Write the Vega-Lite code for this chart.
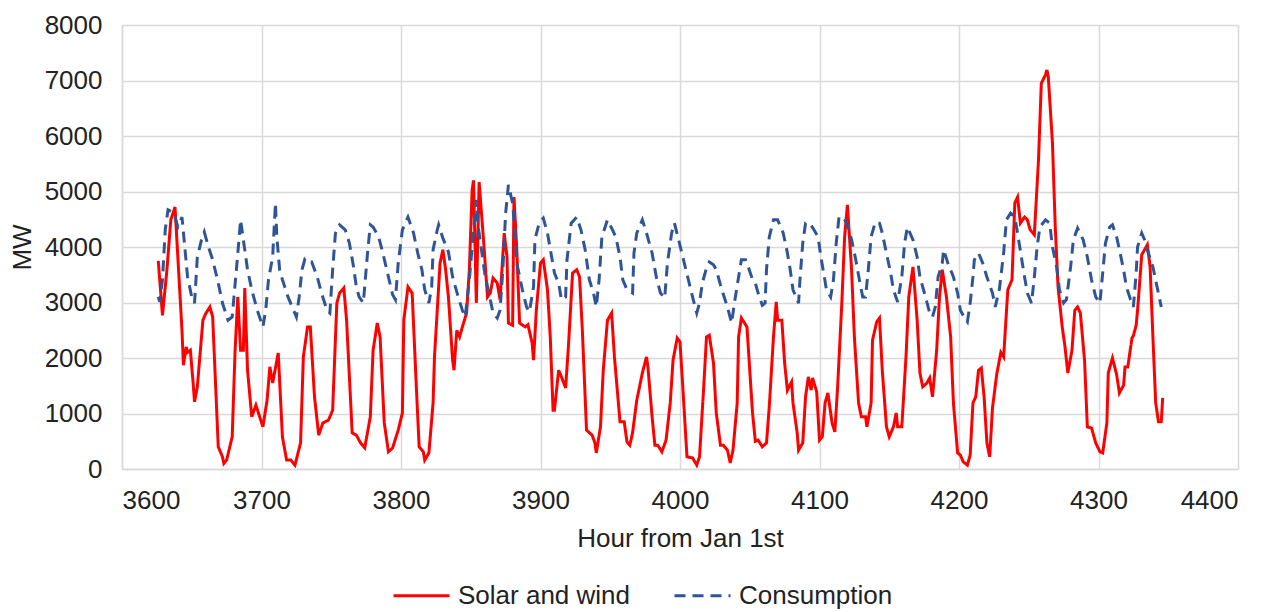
{
  "$schema": "https://vega.github.io/schema/vega-lite/v6.json",
  "width": 1116,
  "height": 444,
  "autosize": "none",
  "padding": {"left": 122, "top": 25, "right": 42, "bottom": 143},
  "datasets": {
    "sw": [
      {"h":3626,"mw":3750},{"h":3629,"mw":2770},{"h":3632,"mw":3530},{"h":3635,"mw":4490},{"h":3638,"mw":4720},{"h":3643,"mw":2500},{"h":3644,"mw":1870},{"h":3646,"mw":2200},{"h":3647,"mw":2100},{"h":3649,"mw":2140},{"h":3651,"mw":1550},{"h":3652,"mw":1210},{"h":3654,"mw":1480},{"h":3658,"mw":2680},{"h":3660,"mw":2800},{"h":3663,"mw":2920},{"h":3665,"mw":2740},{"h":3669,"mw":400},{"h":3672,"mw":220},{"h":3673,"mw":100},{"h":3675,"mw":160},{"h":3679,"mw":580},{"h":3681,"mw":2090},{"h":3683,"mw":3100},{"h":3685,"mw":2140},{"h":3687,"mw":2140},{"h":3688,"mw":3260},{"h":3690,"mw":1780},{"h":3693,"mw":940},{"h":3696,"mw":1150},{"h":3701,"mw":760},{"h":3704,"mw":1240},{"h":3706,"mw":1840},{"h":3708,"mw":1550},{"h":3712,"mw":2090},{"h":3715,"mw":580},{"h":3718,"mw":160},{"h":3721,"mw":160},{"h":3724,"mw":70},{"h":3728,"mw":470},{"h":3730,"mw":2020},{"h":3733,"mw":2560},{"h":3735,"mw":2560},{"h":3738,"mw":1300},{"h":3741,"mw":610},{"h":3744,"mw":830},{"h":3748,"mw":880},{"h":3751,"mw":1060},{"h":3754,"mw":2990},{"h":3756,"mw":3170},{"h":3759,"mw":3260},{"h":3761,"mw":2680},{"h":3765,"mw":650},{"h":3768,"mw":610},{"h":3771,"mw":470},{"h":3774,"mw":380},{"h":3778,"mw":940},{"h":3780,"mw":2140},{"h":3783,"mw":2630},{"h":3785,"mw":2380},{"h":3788,"mw":830},{"h":3791,"mw":310},{"h":3794,"mw":380},{"h":3798,"mw":700},{"h":3801,"mw":1010},{"h":3802,"mw":2680},{"h":3805,"mw":3280},{"h":3808,"mw":3170},{"h":3811,"mw":1480},{"h":3813,"mw":400},{"h":3816,"mw":310},{"h":3817,"mw":160},{"h":3820,"mw":290},{"h":3823,"mw":1190},{"h":3824,"mw":2020},{"h":3828,"mw":3710},{"h":3830,"mw":3950},{"h":3832,"mw":3590},{"h":3834,"mw":3100},{"h":3837,"mw":1960},{"h":3838,"mw":1780},{"h":3840,"mw":2500},{"h":3842,"mw":2380},{"h":3844,"mw":2560},{"h":3847,"mw":2810},{"h":3849,"mw":3590},{"h":3851,"mw":5030},{"h":3852,"mw":5200},{"h":3854,"mw":2990},{"h":3856,"mw":5170},{"h":3859,"mw":4180},{"h":3862,"mw":3100},{"h":3864,"mw":3170},{"h":3866,"mw":3440},{"h":3869,"mw":3350},{"h":3871,"mw":3050},{"h":3874,"mw":4250},{"h":3876,"mw":3820},{"h":3877,"mw":2630},{"h":3880,"mw":2590},{"h":3881,"mw":4900},{"h":3883,"mw":3950},{"h":3885,"mw":2630},{"h":3889,"mw":2560},{"h":3891,"mw":2600},{"h":3894,"mw":2270},{"h":3895,"mw":1960},{"h":3897,"mw":2860},{"h":3900,"mw":3710},{"h":3902,"mw":3770},{"h":3905,"mw":3230},{"h":3907,"mw":2380},{"h":3909,"mw":1060},{"h":3910,"mw":1060},{"h":3913,"mw":1780},{"h":3915,"mw":1660},{"h":3918,"mw":1460},{"h":3920,"mw":2200},{"h":3923,"mw":3530},{"h":3926,"mw":3590},{"h":3928,"mw":3460},{"h":3930,"mw":2500},{"h":3933,"mw":700},{"h":3937,"mw":610},{"h":3939,"mw":470},{"h":3940,"mw":290},{"h":3943,"mw":760},{"h":3945,"mw":1780},{"h":3948,"mw":2680},{"h":3951,"mw":2810},{"h":3953,"mw":2020},{"h":3957,"mw":850},{"h":3960,"mw":850},{"h":3962,"mw":490},{"h":3964,"mw":430},{"h":3966,"mw":650},{"h":3969,"mw":1240},{"h":3971,"mw":1480},{"h":3973,"mw":1730},{"h":3976,"mw":2020},{"h":3977,"mw":1840},{"h":3980,"mw":940},{"h":3982,"mw":430},{"h":3984,"mw":430},{"h":3987,"mw":310},{"h":3990,"mw":520},{"h":3993,"mw":1190},{"h":3995,"mw":1960},{"h":3998,"mw":2360},{"h":4000,"mw":2290},{"h":4002,"mw":1480},{"h":4005,"mw":220},{"h":4009,"mw":200},{"h":4012,"mw":70},{"h":4014,"mw":220},{"h":4017,"mw":1480},{"h":4019,"mw":2380},{"h":4021,"mw":2410},{"h":4024,"mw":1910},{"h":4026,"mw":1010},{"h":4029,"mw":430},{"h":4031,"mw":430},{"h":4034,"mw":340},{"h":4036,"mw":110},{"h":4038,"mw":340},{"h":4041,"mw":1190},{"h":4042,"mw":2380},{"h":4044,"mw":2720},{"h":4048,"mw":2560},{"h":4050,"mw":1780},{"h":4052,"mw":1010},{"h":4054,"mw":500},{"h":4056,"mw":520},{"h":4059,"mw":400},{"h":4062,"mw":470},{"h":4064,"mw":1120},{"h":4067,"mw":2380},{"h":4069,"mw":3010},{"h":4070,"mw":2680},{"h":4073,"mw":2680},{"h":4075,"mw":1910},{"h":4077,"mw":1420},{"h":4080,"mw":1570},{"h":4081,"mw":1190},{"h":4084,"mw":650},{"h":4085,"mw":340},{"h":4088,"mw":470},{"h":4090,"mw":1300},{"h":4092,"mw":1660},{"h":4094,"mw":1420},{"h":4095,"mw":1640},{"h":4098,"mw":1390},{"h":4100,"mw":520},{"h":4102,"mw":580},{"h":4104,"mw":1190},{"h":4106,"mw":1370},{"h":4109,"mw":830},{"h":4111,"mw":670},{"h":4113,"mw":1480},{"h":4116,"mw":2990},{"h":4118,"mw":4180},{"h":4120,"mw":4760},{"h":4123,"mw":3590},{"h":4125,"mw":2380},{"h":4128,"mw":1190},{"h":4130,"mw":940},{"h":4133,"mw":940},{"h":4134,"mw":760},{"h":4137,"mw":1190},{"h":4138,"mw":2320},{"h":4141,"mw":2650},{"h":4143,"mw":2720},{"h":4145,"mw":1780},{"h":4148,"mw":760},{"h":4150,"mw":580},{"h":4153,"mw":760},{"h":4155,"mw":1010},{"h":4156,"mw":760},{"h":4159,"mw":760},{"h":4162,"mw":2020},{"h":4164,"mw":3100},{"h":4167,"mw":3640},{"h":4170,"mw":2680},{"h":4172,"mw":1730},{"h":4174,"mw":1480},{"h":4177,"mw":1550},{"h":4179,"mw":1640},{"h":4181,"mw":1300},{"h":4184,"mw":2140},{"h":4186,"mw":3100},{"h":4188,"mw":3590},{"h":4191,"mw":3100},{"h":4194,"mw":2380},{"h":4196,"mw":1190},{"h":4199,"mw":290},{"h":4201,"mw":250},{"h":4203,"mw":130},{"h":4206,"mw":70},{"h":4208,"mw":250},{"h":4210,"mw":1190},{"h":4212,"mw":1300},{"h":4214,"mw":1780},{"h":4216,"mw":1820},{"h":4218,"mw":1300},{"h":4220,"mw":470},{"h":4222,"mw":220},{"h":4224,"mw":1100},{"h":4227,"mw":1700},{"h":4230,"mw":2100},{"h":4232,"mw":2020},{"h":4235,"mw":3230},{"h":4238,"mw":3410},{"h":4240,"mw":4790},{"h":4242,"mw":4900},{"h":4244,"mw":4430},{"h":4247,"mw":4540},{"h":4249,"mw":4490},{"h":4251,"mw":4310},{"h":4254,"mw":4220},{"h":4257,"mw":5570},{"h":4259,"mw":6950},{"h":4262,"mw":7100},{"h":4263,"mw":7190},{"h":4264,"mw":7070},{"h":4267,"mw":5870},{"h":4269,"mw":4360},{"h":4271,"mw":3280},{"h":4274,"mw":2560},{"h":4276,"mw":2200},{"h":4278,"mw":1730},{"h":4281,"mw":2140},{"h":4283,"mw":2860},{"h":4285,"mw":2920},{"h":4287,"mw":2810},{"h":4290,"mw":1960},{"h":4292,"mw":760},{"h":4295,"mw":740},{"h":4298,"mw":470},{"h":4301,"mw":310},{"h":4303,"mw":290},{"h":4306,"mw":830},{"h":4307,"mw":1730},{"h":4310,"mw":2000},{"h":4313,"mw":1700},{"h":4315,"mw":1370},{"h":4318,"mw":1510},{"h":4319,"mw":1840},{"h":4321,"mw":1840},{"h":4324,"mw":2360},{"h":4325,"mw":2400},{"h":4327,"mw":2590},{"h":4328,"mw":2860},{"h":4331,"mw":3860},{"h":4333,"mw":3950},{"h":4335,"mw":4040},{"h":4337,"mw":3640},{"h":4339,"mw":2380},{"h":4341,"mw":1190},{"h":4343,"mw":850},{"h":4345,"mw":850},{"h":4346,"mw":1280}
    ],
    "co": [
      {"h":3626,"mw":3100},{"h":3627,"mw":3010},{"h":3629,"mw":3410},{"h":3631,"mw":4310},{"h":3633,"mw":4670},{"h":3636,"mw":4630},{"h":3638,"mw":4540},{"h":3640,"mw":4360},{"h":3643,"mw":4540},{"h":3645,"mw":4000},{"h":3647,"mw":3460},{"h":3650,"mw":3100},{"h":3652,"mw":2990},{"h":3654,"mw":3820},{"h":3657,"mw":4130},{"h":3659,"mw":4270},{"h":3662,"mw":4000},{"h":3665,"mw":3770},{"h":3669,"mw":3350},{"h":3672,"mw":2990},{"h":3676,"mw":2680},{"h":3679,"mw":2740},{"h":3682,"mw":3590},{"h":3684,"mw":4180},{"h":3685,"mw":4490},{"h":3686,"mw":4310},{"h":3690,"mw":3590},{"h":3693,"mw":3230},{"h":3697,"mw":2860},{"h":3701,"mw":2560},{"h":3703,"mw":2860},{"h":3705,"mw":3410},{"h":3708,"mw":3820},{"h":3709,"mw":4310},{"h":3710,"mw":4790},{"h":3711,"mw":4180},{"h":3713,"mw":3590},{"h":3715,"mw":3410},{"h":3719,"mw":3100},{"h":3723,"mw":2860},{"h":3725,"mw":2740},{"h":3727,"mw":3100},{"h":3729,"mw":3590},{"h":3731,"mw":3770},{"h":3733,"mw":3710},{"h":3736,"mw":3730},{"h":3740,"mw":3460},{"h":3743,"mw":3170},{"h":3747,"mw":2860},{"h":3749,"mw":2810},{"h":3751,"mw":3590},{"h":3753,"mw":4250},{"h":3756,"mw":4400},{"h":3760,"mw":4310},{"h":3763,"mw":4070},{"h":3766,"mw":3640},{"h":3768,"mw":3280},{"h":3770,"mw":3100},{"h":3773,"mw":2990},{"h":3776,"mw":3890},{"h":3778,"mw":4400},{"h":3780,"mw":4360},{"h":3784,"mw":4180},{"h":3787,"mw":3890},{"h":3791,"mw":3460},{"h":3794,"mw":3140},{"h":3796,"mw":3050},{"h":3798,"mw":3710},{"h":3801,"mw":4310},{"h":3805,"mw":4540},{"h":3809,"mw":4250},{"h":3812,"mw":3890},{"h":3815,"mw":3590},{"h":3817,"mw":3230},{"h":3820,"mw":2990},{"h":3822,"mw":3280},{"h":3823,"mw":3950},{"h":3826,"mw":4310},{"h":3827,"mw":4400},{"h":3830,"mw":4160},{"h":3834,"mw":3910},{"h":3837,"mw":3460},{"h":3841,"mw":3100},{"h":3844,"mw":2860},{"h":3846,"mw":2740},{"h":3849,"mw":3410},{"h":3852,"mw":4310},{"h":3854,"mw":4850},{"h":3855,"mw":4430},{"h":3858,"mw":3890},{"h":3860,"mw":3530},{"h":3864,"mw":3050},{"h":3866,"mw":2810},{"h":3869,"mw":2720},{"h":3871,"mw":2860},{"h":3873,"mw":3590},{"h":3875,"mw":4610},{"h":3877,"mw":5120},{"h":3880,"mw":4790},{"h":3882,"mw":4180},{"h":3883,"mw":3710},{"h":3887,"mw":3230},{"h":3890,"mw":2920},{"h":3892,"mw":2830},{"h":3895,"mw":3280},{"h":3896,"mw":4130},{"h":3899,"mw":4430},{"h":3902,"mw":4520},{"h":3905,"mw":4250},{"h":3908,"mw":3820},{"h":3910,"mw":3530},{"h":3913,"mw":3350},{"h":3915,"mw":3050},{"h":3918,"mw":3100},{"h":3919,"mw":3770},{"h":3922,"mw":4430},{"h":3926,"mw":4540},{"h":3929,"mw":4310},{"h":3932,"mw":3950},{"h":3935,"mw":3410},{"h":3938,"mw":3170},{"h":3940,"mw":2920},{"h":3942,"mw":3410},{"h":3944,"mw":4180},{"h":3948,"mw":4490},{"h":3951,"mw":4340},{"h":3954,"mw":4180},{"h":3957,"mw":3820},{"h":3959,"mw":3410},{"h":3962,"mw":3230},{"h":3966,"mw":3170},{"h":3967,"mw":3890},{"h":3969,"mw":4250},{"h":3973,"mw":4490},{"h":3976,"mw":4250},{"h":3980,"mw":3890},{"h":3983,"mw":3460},{"h":3986,"mw":3170},{"h":3989,"mw":3080},{"h":3991,"mw":3710},{"h":3994,"mw":4250},{"h":3996,"mw":4430},{"h":3999,"mw":4130},{"h":4002,"mw":3820},{"h":4006,"mw":3410},{"h":4009,"mw":3100},{"h":4012,"mw":2810},{"h":4014,"mw":2990},{"h":4016,"mw":3350},{"h":4019,"mw":3620},{"h":4021,"mw":3730},{"h":4024,"mw":3680},{"h":4026,"mw":3590},{"h":4030,"mw":3230},{"h":4034,"mw":2920},{"h":4037,"mw":2630},{"h":4039,"mw":2990},{"h":4042,"mw":3460},{"h":4044,"mw":3770},{"h":4047,"mw":3770},{"h":4049,"mw":3640},{"h":4052,"mw":3410},{"h":4054,"mw":3350},{"h":4056,"mw":3170},{"h":4059,"mw":2950},{"h":4061,"mw":2990},{"h":4062,"mw":3590},{"h":4064,"mw":4180},{"h":4067,"mw":4490},{"h":4070,"mw":4490},{"h":4074,"mw":4250},{"h":4077,"mw":3890},{"h":4079,"mw":3590},{"h":4081,"mw":3230},{"h":4085,"mw":2990},{"h":4086,"mw":3410},{"h":4088,"mw":4070},{"h":4090,"mw":4430},{"h":4093,"mw":4430},{"h":4096,"mw":4310},{"h":4099,"mw":4180},{"h":4101,"mw":3820},{"h":4103,"mw":3530},{"h":4105,"mw":3230},{"h":4108,"mw":3100},{"h":4110,"mw":3410},{"h":4112,"mw":4070},{"h":4114,"mw":4540},{"h":4117,"mw":4540},{"h":4120,"mw":4400},{"h":4123,"mw":4130},{"h":4126,"mw":3770},{"h":4129,"mw":3350},{"h":4131,"mw":3100},{"h":4133,"mw":3100},{"h":4135,"mw":3590},{"h":4137,"mw":4180},{"h":4140,"mw":4450},{"h":4143,"mw":4430},{"h":4145,"mw":4250},{"h":4148,"mw":3890},{"h":4151,"mw":3530},{"h":4153,"mw":3230},{"h":4156,"mw":3010},{"h":4159,"mw":3460},{"h":4161,"mw":4070},{"h":4163,"mw":4360},{"h":4167,"mw":4130},{"h":4170,"mw":3820},{"h":4172,"mw":3460},{"h":4176,"mw":3100},{"h":4179,"mw":2810},{"h":4181,"mw":2740},{"h":4183,"mw":2920},{"h":4185,"mw":3460},{"h":4188,"mw":3710},{"h":4189,"mw":3950},{"h":4192,"mw":3710},{"h":4196,"mw":3460},{"h":4199,"mw":3170},{"h":4201,"mw":2860},{"h":4204,"mw":2720},{"h":4206,"mw":2650},{"h":4208,"mw":2990},{"h":4210,"mw":3460},{"h":4211,"mw":3770},{"h":4214,"mw":3890},{"h":4217,"mw":3710},{"h":4220,"mw":3460},{"h":4224,"mw":3170},{"h":4226,"mw":2920},{"h":4229,"mw":3250},{"h":4232,"mw":3890},{"h":4234,"mw":4490},{"h":4237,"mw":4610},{"h":4240,"mw":4540},{"h":4242,"mw":4250},{"h":4245,"mw":3770},{"h":4247,"mw":3460},{"h":4249,"mw":3170},{"h":4252,"mw":2990},{"h":4254,"mw":3460},{"h":4256,"mw":4000},{"h":4258,"mw":4360},{"h":4262,"mw":4490},{"h":4265,"mw":4430},{"h":4267,"mw":4000},{"h":4270,"mw":3640},{"h":4272,"mw":3230},{"h":4275,"mw":2990},{"h":4277,"mw":3050},{"h":4280,"mw":3640},{"h":4282,"mw":4130},{"h":4285,"mw":4340},{"h":4289,"mw":4130},{"h":4292,"mw":3820},{"h":4295,"mw":3410},{"h":4298,"mw":3100},{"h":4301,"mw":2990},{"h":4303,"mw":3530},{"h":4305,"mw":4070},{"h":4308,"mw":4360},{"h":4310,"mw":4400},{"h":4313,"mw":4180},{"h":4315,"mw":3950},{"h":4318,"mw":3590},{"h":4320,"mw":3280},{"h":4323,"mw":3050},{"h":4325,"mw":2920},{"h":4327,"mw":3530},{"h":4328,"mw":4000},{"h":4331,"mw":4250},{"h":4333,"mw":4130},{"h":4335,"mw":3950},{"h":4339,"mw":3640},{"h":4342,"mw":3280},{"h":4345,"mw":2920}
    ]
  },
  "layer": [
    {
      "data": {"name": "sw"},
      "mark": {"type": "line", "strokeWidth": 3},
      "encoding": {
        "x": {"field": "h", "type": "quantitative", "scale": {"domain": [3600, 4400], "nice": false, "zero": false}, "axis": {"values": [3600, 3700, 3800, 3900, 4000, 4100, 4200, 4300, 4400], "format": "d", "title": "Hour from Jan 1st", "labelPadding": 18, "titlePadding": 12}},
        "y": {"field": "mw", "type": "quantitative", "scale": {"domain": [0, 8000], "nice": false}, "axis": {"values": [0, 1000, 2000, 3000, 4000, 5000, 6000, 7000, 8000], "format": "d", "title": "MW", "labelPadding": 20, "titlePadding": 9}},
        "color": {"datum": "Solar and wind", "type": "nominal", "scale": {"domain": ["Solar and wind", "Consumption"], "range": ["#FF0000", "#2F5597"]}, "legend": {"title": null}},
        "strokeDash": {"datum": "Solar and wind", "type": "nominal", "scale": {"domain": ["Solar and wind", "Consumption"], "range": [[1, 0], [11, 7]]}, "legend": {"title": null}}
      }
    },
    {
      "data": {"name": "co"},
      "mark": {"type": "line", "strokeWidth": 3},
      "encoding": {
        "x": {"field": "h", "type": "quantitative"},
        "y": {"field": "mw", "type": "quantitative"},
        "color": {"datum": "Consumption", "type": "nominal"},
        "strokeDash": {"datum": "Consumption", "type": "nominal"}
      }
    }
  ],
  "config": {
    "font": "Liberation Sans",
    "view": {"stroke": null},
    "axis": {"labelFont": "Liberation Sans", "titleFont": "Liberation Sans", "labelFontSize": 26, "titleFontSize": 26, "titleFontWeight": "normal", "labelColor": "#222222", "titleColor": "#222222", "gridColor": "#d9d9d9", "gridWidth": 1.5, "domainColor": "#d9d9d9", "domainWidth": 1.5, "ticks": false},
    "legend": {"orient": "none", "legendX": 270, "legendY": 541, "padding": 0, "direction": "horizontal", "symbolType": "stroke", "symbolSize": 3136, "symbolStrokeWidth": 3, "labelFontSize": 26, "labelFont": "Liberation Sans", "labelColor": "#222222", "labelOffset": 7, "columnPadding": 38, "labelLimit": 400}
  }
}
